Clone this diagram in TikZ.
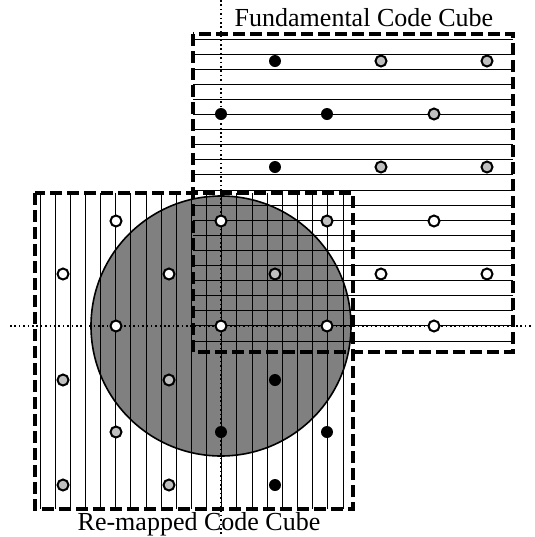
\documentclass[tikz,border=0pt]{standalone}
\usepackage{fontspec}
\setmainfont{Liberation Serif}
\begin{document}
\begin{tikzpicture}[x=0.5pt, y=-0.5pt,
    cube/.style={line width=2.1pt, dash pattern=on 6pt off 2.5pt},
    gridline/.style={line width=0.5pt},
    axisline/.style={line width=0.8pt, dash pattern=on 0.8pt off 1.4pt},
    blackpt/.style={fill=black},
    graypt/.style={draw, line width=1pt, fill=black!25},
    whitept/.style={draw, line width=1pt, fill=white},
    lbl/.style={font=\fontsize{13}{15}\selectfont, inner sep=0pt}
]
\useasboundingbox (0,0) rectangle (535,537);

\fill[black!50] (221,326) circle[radius=130];
\foreach \i in {0,...,20} {
  \draw[gridline] (193,39+15.1*\i) -- (513,39+15.1*\i);
  \draw[gridline] (40+15.15*\i,193) -- (40+15.15*\i,509);
}
\draw[line width=0.8pt] (221,326) circle[radius=130];

\draw[cube] (193,34) rectangle (513,352);
\draw[cube] (35,193) rectangle (353,509);

\draw[axisline] (221,0) -- (221,537);
\draw[axisline] (10,326) -- (533,326);

\node[lbl] (fundlabel) at (364,18) {Fundamental Code Cube};
\node[lbl] (remaplabel) at (199,524) {Re-mapped Code Cube};

\foreach \p in {(275,61),(221,114),(327,114),(275,167),(275,380),(221,432),(327,432),(275,485)}
  \fill[blackpt] \p circle[radius=6];
\foreach \p in {(381,61),(487,61),(434,114),(381,167),(487,167),(327,221),(275,274),
                (63,380),(169,380),(116,432),(63,485),(169,485)}
  \draw[graypt] \p circle[radius=5.5];
\foreach \p in {(221,221),(434,221),(381,274),(487,274),(221,326),(327,326),(434,326),
                (116,221),(63,274),(169,274),(116,326)}
  \draw[whitept] \p circle[radius=5.5];
\end{tikzpicture}
\end{document}
